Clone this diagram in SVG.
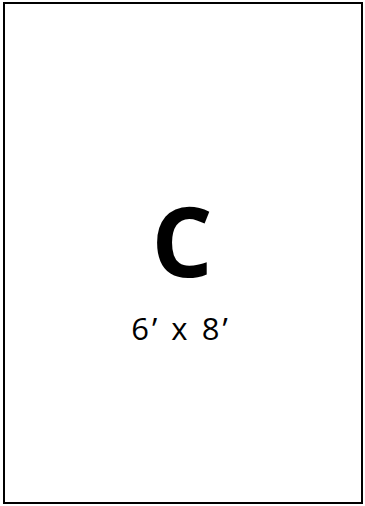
<svg xmlns="http://www.w3.org/2000/svg" width="365" height="506" viewBox="0 0 365 506">
<style>
.t{font-family:"Open Sans","Liberation Sans",sans-serif;fill:#000;text-anchor:middle}
</style>
<rect width="365" height="506" fill="#fff"/>
<g id="room-c">
<rect x="4" y="3" width="358" height="500" fill="#fff" stroke="#000" stroke-width="2"/>
<text class="t" x="182" y="277" font-size="96" font-weight="bold">C</text>
<text class="t" x="181" y="340" font-size="31" letter-spacing="3">6’ x 8’</text>
</g>
</svg>
